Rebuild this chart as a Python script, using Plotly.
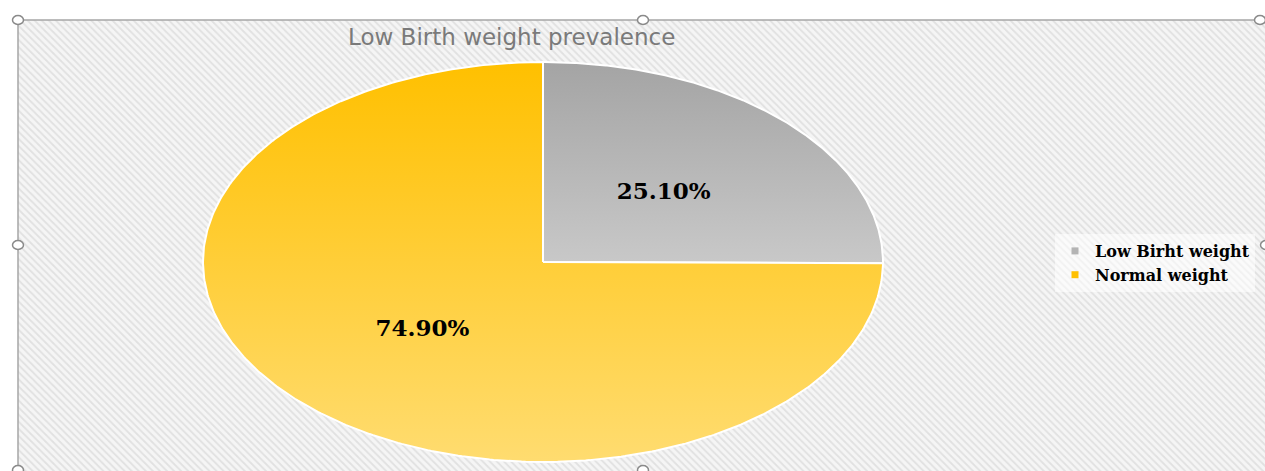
import numpy as np
import plotly.graph_objects as go

# ---- data ----
categories = ["Low Birht weight", "Normal weight"]
values = [25.10, 74.90]
label_texts = ["25.10%", "74.90%"]
title_text = "Low Birth weight prevalence"

# ---- style ----
W, H = 1265, 471
CX, CY, RX, RY = 543, 262, 340, 200   # pixel centre / radii of the (stretched) pie
gradients = [
    [[0, "#ececec"], [1, "#a4a4a4"]],
    [[0, "#ffdc70"], [1, "#ffc000"]],
]
legend_colors = ["#b4b4b4", "#ffc000"]

# axes in "unit-circle" coordinates, mapped so the pie is an ellipse in pixels
xr = [(0 - CX) / RX, (W - CX) / RX]
yr = [(CY - H) / RY, (CY - 0) / RY]

fig = go.Figure()

# hatched chart-area background
fx0, fx1 = (18 - CX) / RX, (W + 5 - CX) / RX
fy0, fy1 = (CY - H - 5) / RY, (CY - 20) / RY
fig.add_trace(go.Bar(
    x=[(fx0 + fx1) / 2], y=[fy1 - fy0], base=[fy0], width=[fx1 - fx0],
    marker=dict(color="#f3f3f3", line=dict(width=0),
                pattern=dict(shape="\\", fgcolor="#cdcdcd", bgcolor="#f5f5f5",
                             size=5, solidity=0.35)),
    hoverinfo="skip", showlegend=False,
))

total = sum(values)
start = 90.0
for i, (cat, v) in enumerate(zip(categories, values)):
    sweep = 360.0 * v / total
    ang = np.linspace(start, start - sweep, 400)
    xs = np.concatenate([[0], np.cos(np.radians(ang)), [0]])
    ys = np.concatenate([[0], np.sin(np.radians(ang)), [0]])
    fig.add_trace(go.Scatter(
        x=xs, y=ys, mode="lines", fill="toself",
        fillgradient=dict(type="vertical", colorscale=gradients[i], start=-1, stop=1),
        line=dict(color="white", width=2),
        hoverinfo="skip", showlegend=False,
    ))
    mid = np.radians(start - sweep / 2)
    fig.add_trace(go.Scatter(
        x=[0.5 * np.cos(mid)], y=[0.485 * np.sin(mid)], mode="text",
        text=[label_texts[i]],
        textfont=dict(family="DejaVu Serif", size=23, color="black", weight="bold"),
        hoverinfo="skip", showlegend=False,
    ))
    start -= sweep

# legend entries
for cat, c in zip(categories, legend_colors):
    fig.add_trace(go.Scatter(
        x=[None], y=[None], mode="markers", name=cat,
        marker=dict(symbol="square", size=7, color=c),
    ))

# frame lines and selection handles
shapes = [
    dict(type="line", xref="paper", yref="paper", x0=18 / W, x1=1.0, y0=1 - 20 / H, y1=1 - 20 / H,
         line=dict(color="#a6a6a6", width=1.5)),
    dict(type="line", xref="paper", yref="paper", x0=18 / W, x1=18 / W, y0=0, y1=1 - 20 / H,
         line=dict(color="#a6a6a6", width=1.5)),
]
for (hx, hy) in [(18, 20), (643, 20), (1260, 20), (18, 245), (1266, 245), (18, 470), (643, 470)]:
    shapes.append(dict(type="circle", xref="paper", yref="paper",
                       xsizemode="pixel", ysizemode="pixel",
                       xanchor=hx / W, yanchor=1 - hy / H,
                       x0=-5.5, x1=5.5, y0=-4.5, y1=4.5,
                       fillcolor="white", line=dict(color="#8a8a8a", width=1.5)))

fig.update_layout(
    width=W, height=H,
    margin=dict(l=0, r=0, t=0, b=0),
    paper_bgcolor="white", plot_bgcolor="rgba(0,0,0,0)",
    xaxis=dict(range=xr, visible=False, fixedrange=True),
    yaxis=dict(range=yr, visible=False, fixedrange=True),
    bargap=0,
    shapes=shapes,
    annotations=[dict(text=title_text, xref="paper", yref="paper",
                      x=511 / W, y=1 - 37 / H, showarrow=False,
                      xanchor="center", yanchor="middle",
                      font=dict(family="DejaVu Sans", size=23, color="#7a7a7a"))],
    legend=dict(x=1055 / W, y=1 - 234 / H, xanchor="left", yanchor="top",
                bgcolor="rgba(255,255,255,0.55)", itemwidth=30,
                tracegroupgap=0,
                font=dict(family="DejaVu Serif", size=16, color="black", weight="bold")),
    showlegend=True,
)

fig.write_html("out.html", config={"displayModeBar": False},
               post_script="document.body.style.margin='0';document.body.style.overflow='hidden';")
